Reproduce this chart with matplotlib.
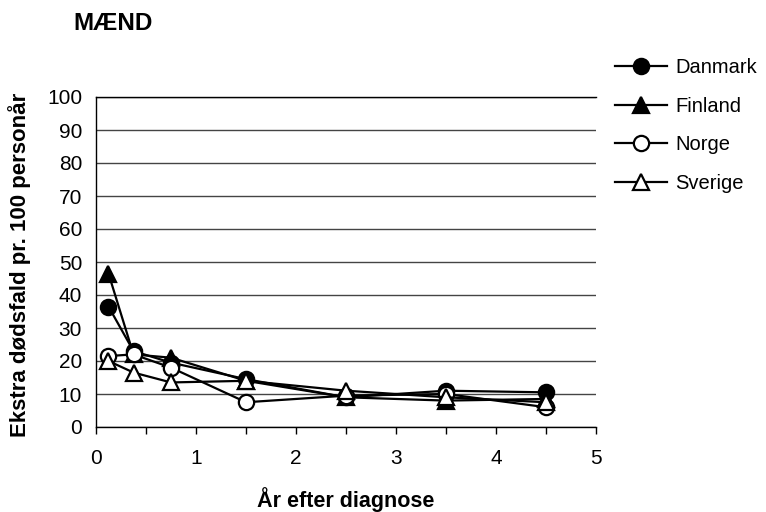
import matplotlib
matplotlib.use("Agg")
import matplotlib.pyplot as plt
from matplotlib.ticker import MultipleLocator

plt.rcParams['font.family'] = ['Liberation Sans', 'DejaVu Sans']

years = [0.125, 0.375, 0.75, 1.5, 2.5, 3.5, 4.5]
danmark = [36.5, 23, 19.5, 14.5, 9, 11, 10.5]
finland = [46.5, 22, 21, 14, 9, 8, 8.5]
norge = [21.5, 22, 18, 7.5, 9.5, 10, 6]
sverige = [20, 16.5, 13.5, 14, 11, 9, 7.5]

series = [
    ("Danmark", danmark, 'o', 'black'),
    ("Finland", finland, '^', 'black'),
    ("Norge", norge, 'o', 'white'),
    ("Sverige", sverige, '^', 'white'),
]

fig = plt.figure(figsize=(7.66, 5.12), dpi=100)
ax = fig.add_axes([96/766, 1 - 427/512, 500/766, 330/512])

for name, vals, m, fc in series:
    ax.plot(years, vals, color='black', lw=1.6, marker=m, markersize=11,
            markerfacecolor=fc, markeredgecolor='black', markeredgewidth=1.6,
            label=name)

ax.set_xlim(0, 5)
ax.set_ylim(0, 100)
ax.xaxis.set_major_locator(MultipleLocator(1))
ax.xaxis.set_minor_locator(MultipleLocator(0.5))
ax.yaxis.set_major_locator(MultipleLocator(10))
ax.tick_params(axis='x', which='both', direction='out', length=5, width=1, labelsize=15, pad=11)
ax.tick_params(axis='y', length=0, labelsize=15, pad=10)
ax.grid(axis='y', color='#444444', lw=1)
ax.set_axisbelow(True)
ax.spines['right'].set_visible(False)
for s in ['left', 'bottom', 'top']:
    ax.spines[s].set_color('black')
    ax.spines[s].set_linewidth(1)

ax.set_xlabel("År efter diagnose", fontsize=15.5, fontweight='bold')
ax.xaxis.set_label_coords(0.5, -0.182)
ax.set_ylabel("Ekstra dødsfald pr. 100 personår", fontsize=16, fontweight='bold')
ax.yaxis.set_label_coords(-0.13, 0.49)
fig.text(73/766, 1 - 24/512, "MÆND", fontsize=17.5, fontweight='bold', va='center', ha='left')

leg = ax.legend(loc='upper left', bbox_to_anchor=(615/766, 1 - 58/512), bbox_transform=fig.transFigure,
                frameon=False, fontsize=14.5, handlelength=2.6, labelspacing=0.98, handletextpad=0.4,
                borderpad=0, borderaxespad=0)

fig.savefig("out.png", dpi=100)
